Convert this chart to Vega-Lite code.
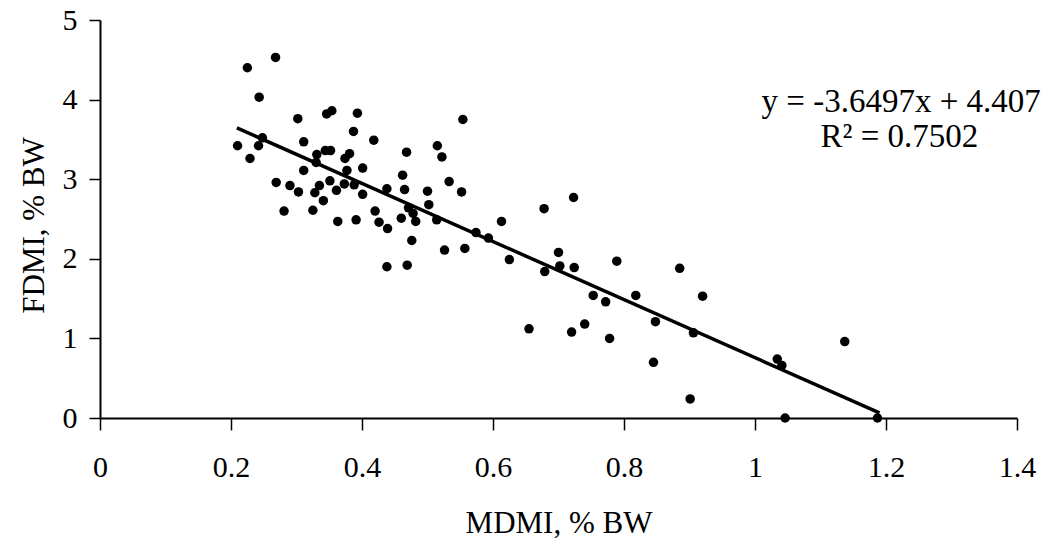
{
  "$schema": "https://vega.github.io/schema/vega-lite/v6.json",
  "width": 917,
  "height": 398,
  "autosize": {"type": "none"},
  "padding": {"left": 100, "top": 20, "right": 27, "bottom": 136},
  "background": "white",
  "config": {
    "view": {"stroke": null},
    "font": "Liberation Serif",
    "axis": {
      "grid": false,
      "domainColor": "black",
      "domainWidth": 2,
      "tickColor": "black",
      "tickWidth": 1.5,
      "labelFont": "Liberation Serif",
      "labelFontSize": 30,
      "labelColor": "black",
      "titleFont": "Liberation Serif",
      "titleFontSize": 31,
      "titleFontWeight": "normal",
      "titleColor": "black"
    }
  },
  "datasets": {
    "points": [
      {"MDMI": 0.225, "FDMI": 4.40}, {"MDMI": 0.268, "FDMI": 4.53}, {"MDMI": 0.243, "FDMI": 4.03},
      {"MDMI": 0.302, "FDMI": 3.76}, {"MDMI": 0.346, "FDMI": 3.82}, {"MDMI": 0.354, "FDMI": 3.86},
      {"MDMI": 0.393, "FDMI": 3.83}, {"MDMI": 0.387, "FDMI": 3.60}, {"MDMI": 0.418, "FDMI": 3.49},
      {"MDMI": 0.210, "FDMI": 3.42}, {"MDMI": 0.242, "FDMI": 3.42}, {"MDMI": 0.248, "FDMI": 3.52},
      {"MDMI": 0.229, "FDMI": 3.26}, {"MDMI": 0.311, "FDMI": 3.47}, {"MDMI": 0.331, "FDMI": 3.31},
      {"MDMI": 0.344, "FDMI": 3.36}, {"MDMI": 0.352, "FDMI": 3.36}, {"MDMI": 0.330, "FDMI": 3.21},
      {"MDMI": 0.374, "FDMI": 3.26}, {"MDMI": 0.381, "FDMI": 3.32}, {"MDMI": 0.311, "FDMI": 3.11},
      {"MDMI": 0.401, "FDMI": 3.14}, {"MDMI": 0.377, "FDMI": 3.11}, {"MDMI": 0.269, "FDMI": 2.96},
      {"MDMI": 0.290, "FDMI": 2.92}, {"MDMI": 0.303, "FDMI": 2.84}, {"MDMI": 0.335, "FDMI": 2.92},
      {"MDMI": 0.351, "FDMI": 2.98}, {"MDMI": 0.328, "FDMI": 2.83}, {"MDMI": 0.361, "FDMI": 2.86},
      {"MDMI": 0.373, "FDMI": 2.94}, {"MDMI": 0.388, "FDMI": 2.93}, {"MDMI": 0.401, "FDMI": 2.81},
      {"MDMI": 0.438, "FDMI": 2.88}, {"MDMI": 0.341, "FDMI": 2.73}, {"MDMI": 0.281, "FDMI": 2.60},
      {"MDMI": 0.325, "FDMI": 2.61}, {"MDMI": 0.363, "FDMI": 2.47}, {"MDMI": 0.391, "FDMI": 2.49},
      {"MDMI": 0.420, "FDMI": 2.60}, {"MDMI": 0.426, "FDMI": 2.46}, {"MDMI": 0.439, "FDMI": 2.38},
      {"MDMI": 0.438, "FDMI": 1.90}, {"MDMI": 0.554, "FDMI": 3.75}, {"MDMI": 0.468, "FDMI": 3.34},
      {"MDMI": 0.515, "FDMI": 3.42}, {"MDMI": 0.522, "FDMI": 3.28}, {"MDMI": 0.462, "FDMI": 3.05},
      {"MDMI": 0.465, "FDMI": 2.87}, {"MDMI": 0.500, "FDMI": 2.85}, {"MDMI": 0.533, "FDMI": 2.97},
      {"MDMI": 0.552, "FDMI": 2.84}, {"MDMI": 0.502, "FDMI": 2.68}, {"MDMI": 0.471, "FDMI": 2.64},
      {"MDMI": 0.478, "FDMI": 2.57}, {"MDMI": 0.482, "FDMI": 2.47}, {"MDMI": 0.514, "FDMI": 2.49},
      {"MDMI": 0.460, "FDMI": 2.51}, {"MDMI": 0.476, "FDMI": 2.23}, {"MDMI": 0.526, "FDMI": 2.11},
      {"MDMI": 0.557, "FDMI": 2.13}, {"MDMI": 0.469, "FDMI": 1.92}, {"MDMI": 0.574, "FDMI": 2.33},
      {"MDMI": 0.593, "FDMI": 2.26}, {"MDMI": 0.613, "FDMI": 2.47}, {"MDMI": 0.678, "FDMI": 2.63},
      {"MDMI": 0.723, "FDMI": 2.77}, {"MDMI": 0.625, "FDMI": 1.99}, {"MDMI": 0.700, "FDMI": 2.08},
      {"MDMI": 0.702, "FDMI": 1.91}, {"MDMI": 0.724, "FDMI": 1.89}, {"MDMI": 0.679, "FDMI": 1.84},
      {"MDMI": 0.789, "FDMI": 1.97}, {"MDMI": 0.885, "FDMI": 1.88}, {"MDMI": 0.753, "FDMI": 1.54},
      {"MDMI": 0.772, "FDMI": 1.46}, {"MDMI": 0.818, "FDMI": 1.54}, {"MDMI": 0.920, "FDMI": 1.53},
      {"MDMI": 0.740, "FDMI": 1.18}, {"MDMI": 0.720, "FDMI": 1.08}, {"MDMI": 0.778, "FDMI": 1.00},
      {"MDMI": 0.848, "FDMI": 1.21}, {"MDMI": 0.906, "FDMI": 1.07}, {"MDMI": 0.845, "FDMI": 0.70},
      {"MDMI": 1.034, "FDMI": 0.74}, {"MDMI": 0.655, "FDMI": 1.12}, {"MDMI": 0.901, "FDMI": 0.24},
      {"MDMI": 1.137, "FDMI": 0.96}, {"MDMI": 1.041, "FDMI": 0.66}, {"MDMI": 1.046, "FDMI": 0.00},
      {"MDMI": 1.187, "FDMI": 0.00}
    ],
    "trend": [
      {"MDMI": 0.209, "FDMI": 3.644},
      {"MDMI": 1.19, "FDMI": 0.064}
    ],
    "labels": [
      {"MDMI": 1.01, "FDMI": 3.97, "text": "y = -3.6497x + 4.407"},
      {"MDMI": 1.10, "FDMI": 3.53, "text": "R² = 0.7502"}
    ]
  },
  "encoding": {
    "x": {
      "field": "MDMI",
      "type": "quantitative",
      "scale": {"domain": [0, 1.4], "nice": false, "zero": false},
      "axis": {
        "title": "MDMI, % BW",
        "values": [0, 0.2, 0.4, 0.6, 0.8, 1, 1.2, 1.4],
        "labelExpr": "'' + round(datum.value * 10) / 10",
        "tickSize": 12,
        "labelPadding": 22,
        "labelFlush": false,
        "titleY": 114,
        "titleBaseline": "alphabetic",
        "titleAlign": "center"
      }
    },
    "y": {
      "field": "FDMI",
      "type": "quantitative",
      "scale": {"domain": [0, 5], "nice": false, "zero": false},
      "axis": {
        "title": "FDMI, % BW",
        "values": [0, 1, 2, 3, 4, 5],
        "tickSize": 11,
        "labelPadding": 12,
        "labelFlush": false,
        "titleAngle": 270,
        "titleX": -57,
        "titleY": 205,
        "titleAlign": "center",
        "titleBaseline": "alphabetic"
      }
    }
  },
  "layer": [
    {
      "data": {"name": "points"},
      "mark": {"type": "point", "shape": "circle", "filled": true, "color": "black", "opacity": 1, "size": 90}
    },
    {
      "data": {"name": "trend"},
      "mark": {"type": "line", "color": "black", "strokeWidth": 3.5}
    },
    {
      "data": {"name": "labels"},
      "mark": {"type": "text", "align": "left", "baseline": "middle", "fontSize": 33, "font": "Liberation Serif", "color": "black"},
      "encoding": {"text": {"field": "text", "type": "nominal"}}
    }
  ]
}
